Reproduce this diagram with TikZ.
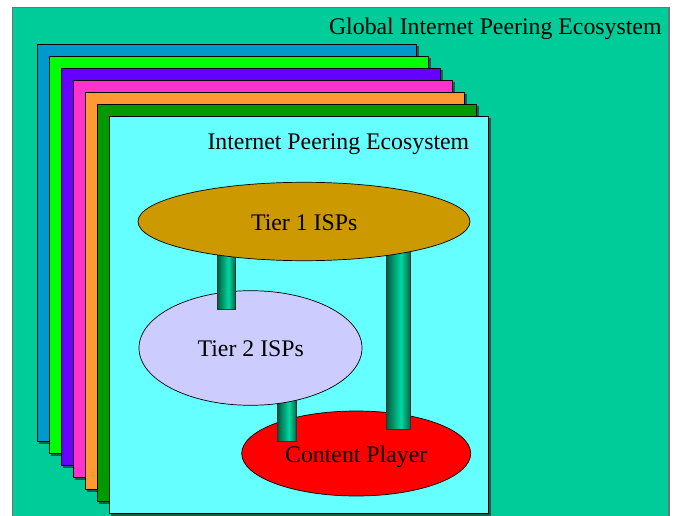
\documentclass[tikz,border=0pt]{standalone}
\usepackage{fontspec}
\setmainfont{Liberation Serif}
\usetikzlibrary{shapes.geometric}

\definecolor{worldteal}{HTML}{00CC99}
\definecolor{layblue}{HTML}{0099CC}
\definecolor{laygreen}{HTML}{00FF00}
\definecolor{laypurple}{HTML}{6600FF}
\definecolor{laypink}{HTML}{FF33CC}
\definecolor{layorange}{HTML}{FF9933}
\definecolor{laydkgreen}{HTML}{009900}
\definecolor{laycyan}{HTML}{66FFFF}
\definecolor{tiergold}{HTML}{CC9900}
\definecolor{tierlav}{HTML}{CCCCFF}
\definecolor{playred}{HTML}{FF0000}
\definecolor{pillarlight}{HTML}{00D9A0}
\definecolor{pillardark}{HTML}{005C40}
\definecolor{shadowcol}{HTML}{1F5C50}

% cylinder look for the vertical links
\pgfdeclarehorizontalshading{pillarshade}{100bp}{
  color(0bp)=(pillardark); color(25bp)=(pillardark);
  color(55bp)=(pillarlight); color(75bp)=(pillardark);
  color(100bp)=(pillardark)}

\tikzset{
  lbl/.style={inner sep=0pt, anchor=base, font=\fontsize{23.8}{28}\selectfont},
  layer/.style={draw=black, line width=0.9pt},
  layershadow/.style={fill=shadowcol},
  blob/.style={ellipse, draw=black, line width=0.7pt, inner sep=0pt},
  pillar/.style={rectangle, inner sep=0pt, draw=black!80, line width=0.8pt,
                 shading=pillarshade},
}

\begin{document}
\begin{tikzpicture}[x=1pt, y=-1pt]
\useasboundingbox (0,0) rectangle (678,516);

% outer world box
\draw[fill=worldteal, draw=black!55, line width=1.2pt] (12.7,7.3) rectangle (669,530);
\node[lbl, anchor=base east] (global) at (661.7,35) {Global Internet Peering Ecosystem};

% stacked regional ecosystems
\foreach \c [count=\i from 0] in {layblue,laygreen,laypurple,laypink,layorange,laydkgreen,laycyan} {
  \fill[layershadow] ({37.3+12*\i+1.8},{44.3+12*\i+1.8}) rectangle ({416.7+12*\i+1.8},{441.7+12*\i+1.8});
  \draw[layer, fill=\c] ({37.3+12*\i},{44.3+12*\i}) rectangle ({416.7+12*\i},{441.7+12*\i});
}
\node[lbl, anchor=base west] (regional) at (207.3,150) {Internet Peering Ecosystem};

% content player at the bottom
\node[blob, fill=playred, minimum width=229pt, minimum height=85pt] (cp) at (356.2,453.5) {};

% links into the content player
\node[pillar, minimum width=19pt, minimum height=52pt, anchor=south] (p3) at (287.2,441.7) {};
\node[pillar, minimum width=24.5pt, minimum height=190pt, anchor=south] (p2) at (398.5,429.5) {};

% tier 2 ellipse
\node[blob, fill=tierlav, minimum width=223pt, minimum height=114.6pt] (t2) at (250.5,348) {};

% link tier 1 -> tier 2
\node[pillar, minimum width=18.5pt, minimum height=70pt, anchor=south] (p1) at (226.5,309.3) {};

% tier 1 ellipse
\node[blob, fill=tiergold, minimum width=332pt, minimum height=78.4pt] (t1) at (304,221.5) {};

% labels
\node[lbl] (t1lbl) at (304.2,231) {Tier 1 ISPs};
\node[lbl] (t2lbl) at (250.8,356.7) {Tier 2 ISPs};
\node[lbl] (cplbl) at (356.2,462.7) {Content Player};
\end{tikzpicture}
\end{document}
